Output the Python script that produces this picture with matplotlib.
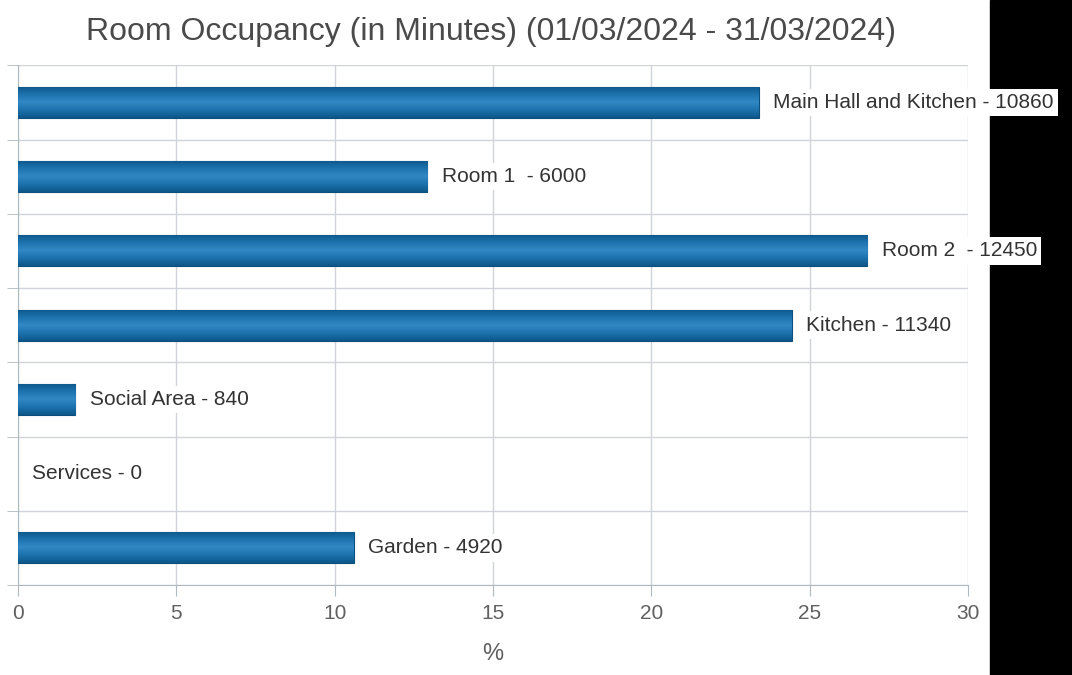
import numpy as np
import matplotlib.pyplot as plt
from matplotlib.colors import LinearSegmentedColormap
from matplotlib.patches import Rectangle

rooms = ["Main Hall and Kitchen", "Room 1 ", "Room 2 ", "Kitchen",
         "Social Area", "Services", "Garden"]
minutes = [10860, 6000, 12450, 11340, 840, 0, 4920]

plt.rcParams['font.family'] = ['Liberation Sans', 'DejaVu Sans']

total = sum(minutes)
share = [m / total * 100 for m in minutes]

fig = plt.figure(figsize=(10.72, 6.75), dpi=100)
fig.add_artist(Rectangle((990 / 1072, 0), 1, 1, transform=fig.transFigure,
                         color='black', zorder=-1))
ax = fig.add_axes([0.0168, 0.1333, 0.886, 0.770])
ax.patch.set_alpha(0)

y = np.arange(len(rooms))
bars = ax.barh(y, share, height=0.42, color='#1a6da6', edgecolor='#0b4f7d',
               linewidth=0.8, zorder=3)

# vertical shading on each bar: dark edges, lighter middle
shade = LinearSegmentedColormap.from_list(
    'shade', ['#0d5689', '#1c72ad', '#3288c4', '#1c72ad', '#0d5689'])
grad = np.linspace(0, 1, 256).reshape(-1, 1)
for b in bars:
    if b.get_width() <= 0:
        b.set_linewidth(0)
        continue
    x0, y0 = b.get_x(), b.get_y()
    im = ax.imshow(grad, cmap=shade, aspect='auto', zorder=3.5,
                   extent=(x0, x0 + b.get_width(), y0 + b.get_height(), y0))
    im.set_clip_path(b)

for yi, v, name, m in zip(y, share, rooms, minutes):
    ax.text(v + 0.45, yi, f"{name} - {m}", va='center', ha='left',
            fontsize=15, color='#333333', clip_on=False, zorder=5,
            bbox=dict(boxstyle='square,pad=0.2', fc='white', ec='none'))

ax.set_xlim(0, 30)
ax.set_ylim(len(rooms) - 0.5, -0.5)
ax.set_xticks(np.arange(0, 31, 5))
ax.set_yticks([])
ax.set_yticks(np.arange(-0.5, len(rooms)), minor=True)
ax.grid(True, which='major', axis='x', color='#d0d4d8', linewidth=1)
ax.grid(True, which='minor', axis='y', color='#d0d4d8', linewidth=1)
ax.set_axisbelow(True)

for side in ['top', 'right']:
    ax.spines[side].set_visible(False)
for side in ['left', 'bottom']:
    ax.spines[side].set_color('#b0b8c0')
ax.tick_params(axis='x', colors='#b0b8c0', length=8, labelcolor='#606060',
               labelsize=15, pad=6)
ax.tick_params(axis='y', which='minor', colors='#b0b8c0', length=8)

ax.set_xlabel('%', fontsize=17, color='#606060', labelpad=14)
fig.suptitle('Room Occupancy (in Minutes) (01/03/2024 - 31/03/2024)',
             x=0.458, y=0.975, fontsize=23, color='#4a4a4a')

fig.savefig('out.png', dpi=100, facecolor='white')
